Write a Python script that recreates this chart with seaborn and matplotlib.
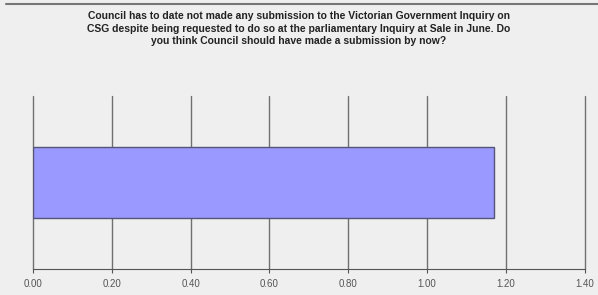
import matplotlib
matplotlib.use("Agg")
import matplotlib.pyplot as plt
from matplotlib.lines import Line2D
import seaborn as sns
import pandas as pd

# data
categories = ["Yes"]
values = [1.17]
x_ticks = [0.0, 0.2, 0.4, 0.6, 0.8, 1.0, 1.2, 1.4]
title = ("Council has to date not made any submission to the Victorian Government Inquiry on\n"
         "CSG despite being requested to do so at the parliamentary Inquiry at Sale in June. Do\n"
         "you think Council should have made a submission by now?")

df = pd.DataFrame({"answer": categories, "value": values})

sns.set_style("white")
plt.rcParams["font.family"] = ["Liberation Sans", "DejaVu Sans"]

bg = "#efefef"
fig = plt.figure(figsize=(5.98, 2.95), dpi=100, facecolor=bg)
ax = fig.add_axes([0.055, 0.088, 0.923, 0.587])
ax.set_facecolor(bg)

sns.barplot(data=df, x="value", y="answer", orient="h", ax=ax,
            color="#9999ff", saturation=1, width=0.405,
            edgecolor="#55557a", linewidth=1.0, zorder=3)

ax.set_xlim(0, 1.4)
ax.set_ylim(0.5, -0.5)
ax.set_xticks(x_ticks)
ax.set_xticklabels([f"{t:.2f}" for t in x_ticks], fontsize=7, color="#555555")
ax.set_yticks([])
ax.set_xlabel("")
ax.set_ylabel("")
ax.xaxis.grid(True, color="#707070", linewidth=1.0, zorder=0)
for gl in ax.get_xgridlines():
    gl.set_clip_on(False)
ax.set_axisbelow(True)
for s in ["top", "left", "right"]:
    ax.spines[s].set_visible(False)
ax.spines["bottom"].set_color("#555555")
ax.tick_params(axis="x", length=3, color="#555555", pad=4, bottom=True)

fig.text(0.5, 0.962, title, ha="center", va="top", fontsize=7.5,
         fontweight="bold", color="#222222", linespacing=1.3)

fig.add_artist(Line2D([0.01, 1.0], [0.985, 0.985], transform=fig.transFigure,
                      color="#777777", linewidth=1.5))

fig.savefig("out.png", dpi=100, facecolor=bg)
